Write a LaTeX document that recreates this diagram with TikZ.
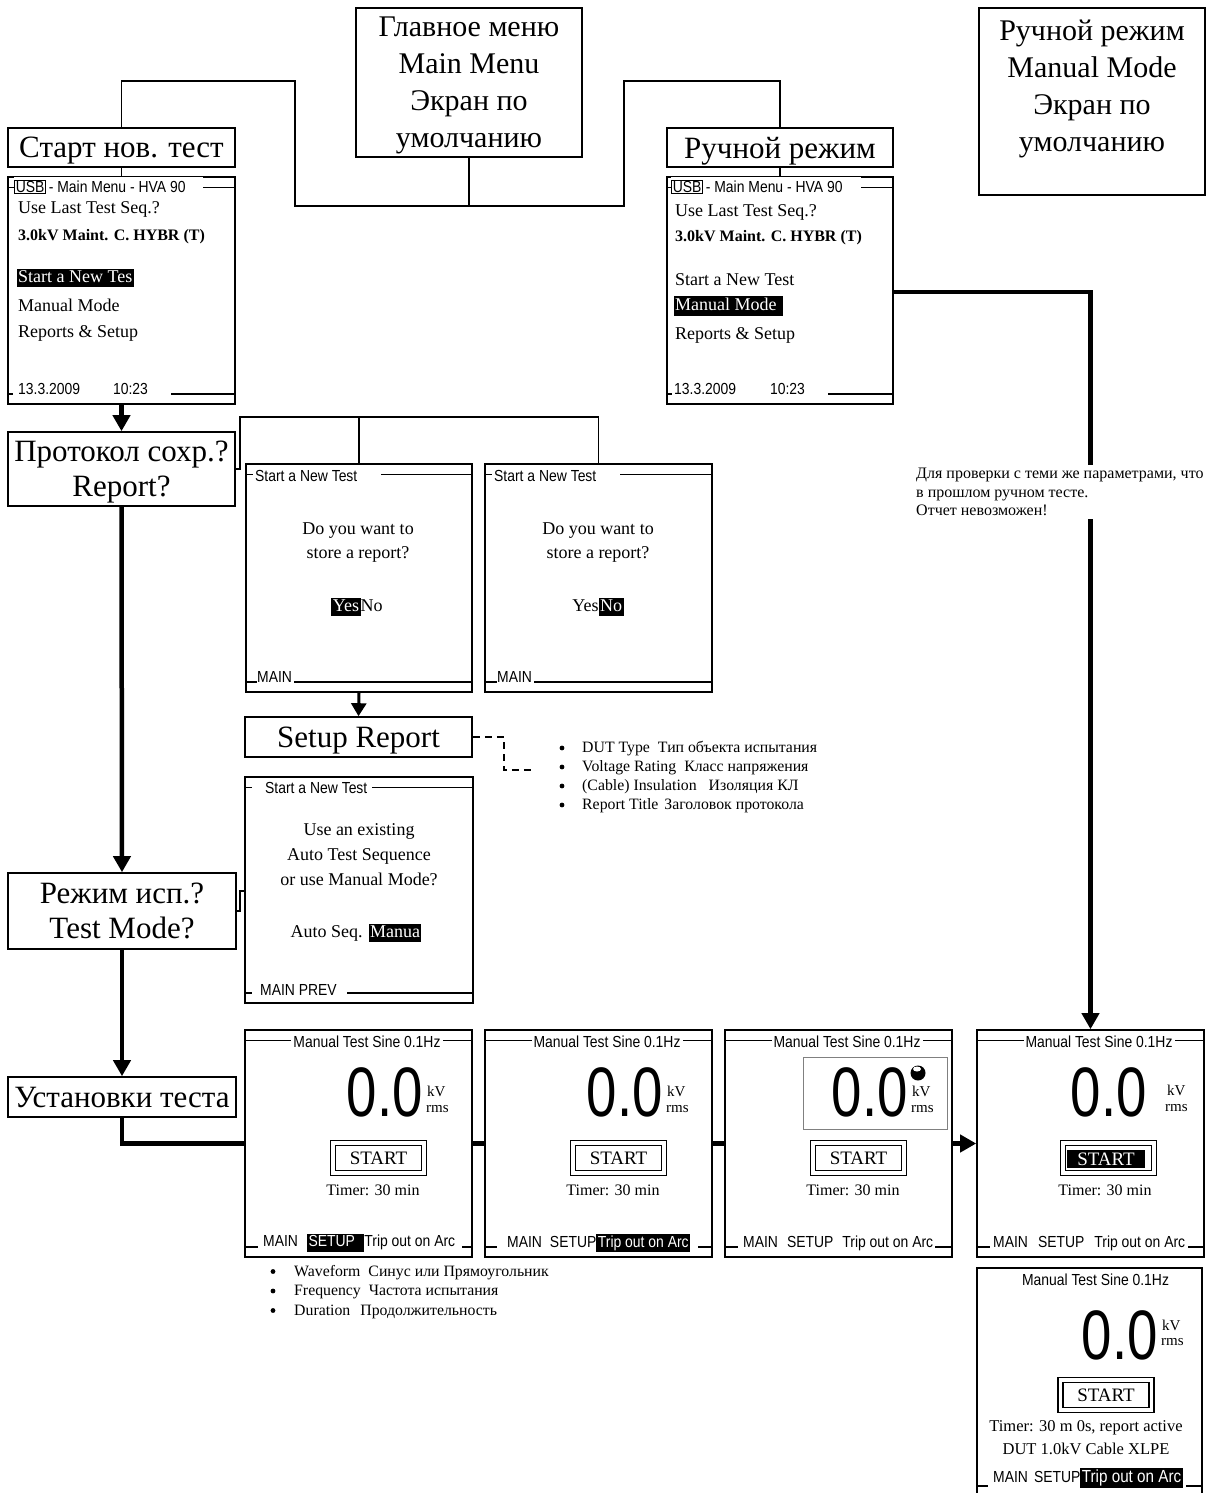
\documentclass[tikz,border=0pt]{standalone}
\usepackage{fontspec}
\setmainfont{Liberation Serif}
\newfontfamily\scrsans[FakeStretch=0.87]{Liberation Sans}
\newfontfamily\digsans[FakeStretch=0.78]{Liberation Sans}
\usetikzlibrary{arrows.meta}
\newcommand{\hl}[1]{{\setlength{\fboxsep}{1.5pt}\colorbox{black}{\vphantom{Ay}\textcolor{white}{#1}}}}
\newcommand{\usbbox}{{\setlength{\fboxsep}{0.8pt}\setlength{\fboxrule}{0.9pt}\fbox{USB}}}
\newcommand{\gap}[1]{\hspace{#1}\mbox{}}

\tikzset{
  lbl/.style={draw, line width=1.6pt, inner sep=0pt, align=center, text depth=0pt, font=\fontsize{31}{35}\selectfont},
  screen/.style={draw, line width=1.6pt, inner sep=0pt, minimum width=227pt, minimum height=227pt},
  scrline/.style={line width=1.4pt},
  conn/.style={line width=1.8pt},
  flow/.style={line width=4.5pt},
  fwd/.style={-{Triangle[length=16pt,width=17pt]}},
  hdr/.style={font=\scrsans\fontsize{16}{19}\selectfont, inner xsep=0pt, inner ysep=3pt, fill=white},
  txt/.style={font=\fontsize{18}{24}\selectfont, inner sep=0pt, align=center},
  menu/.style={txt, anchor=west},
  digits/.style={font=\digsans\fontsize{70}{70}\selectfont, inner sep=0pt, anchor=east},
  unitlbl/.style={font=\fontsize{15}{15}\selectfont, inner sep=0pt, anchor=west},
  startbtn/.style={draw, double, double distance=3.5pt, line width=1.3pt, minimum width=91pt, minimum height=30pt, inner sep=0pt, font=\fontsize{19}{19}\selectfont},
  listtext/.style={font=\fontsize{15.8}{19}\selectfont, inner sep=0pt, anchor=west}
}

\begin{document}
\begin{tikzpicture}[x=1pt,y=-1pt]
    \path[use as bounding box, fill=white] (0,0) rectangle (1207,1493);

    %Top boxes
    \node[lbl, font=\fontsize{30}{37}\selectfont, minimum width=226pt, minimum height=149pt] (mainmenu) at (469,82.5) {Главное меню\\Main Menu\\Экран по\\умолчанию};
    \node[lbl, minimum width=226pt, minimum height=187pt] (manbox) at (1092,101.5) {};
    \node[lbl, draw=none, font=\fontsize{30}{37}\selectfont] (mantext) at (1092,86) {Ручной режим\\Manual Mode\\Экран по\\умолчанию};
    \node[lbl, minimum width=227pt, minimum height=39pt] (start) at (121.5,147.5) {Старт нов. тест};
    \node[lbl, minimum width=226pt, minimum height=39pt] (manlbl) at (780,147.5) {Ручной режим};

    %Left column
    \node[lbl, minimum width=227pt, minimum height=74pt] (report) at (121.5,469) {Протокол сохр.?\\Report?};
    \node[lbl, minimum width=228pt, minimum height=76pt] (tmode) at (122,911) {Режим исп.?\\Test Mode?};
    \node[lbl, minimum width=228pt, minimum height=40pt] (tset) at (122,1097) {Установки теста};
    \node[lbl, minimum width=227pt, minimum height=40pt] (setup) at (358.5,737) {Setup Report};

    %Screens
    \node[screen] (mm1) at (121.5,290.5) {};
    \node[screen, minimum width=226pt] (mm2) at (780,290.5) {};
    \node[screen, minimum width=226pt, minimum height=228pt] (yes) at (359,578) {};
    \node[screen, minimum height=228pt] (no) at (598.5,578) {};
    \node[screen, minimum width=228pt, minimum height=226pt] (useex) at (359,890) {};
    \foreach \sn/\xl in {ma/245,mb/485,mc/725,md/977}
        \node[screen] (\sn) at ({\xl+113.5},1143.5) {};
    \node[screen, minimum width=225pt, minimum height=228pt] (me) at (1089.5,1382) {};

    \foreach \s in {mm1,mm2,yes,no,useex,ma,mb,mc,md}{
        \draw[scrline] ([yshift=-11pt]\s.north west) -- ([yshift=-11pt]\s.north east);
        \draw[scrline] ([yshift=11pt]\s.south west) -- ([yshift=11pt]\s.south east);
    };
    \draw[scrline] ([yshift=11pt]me.south west) -- ([yshift=11pt]me.south east);

    %Connectors
    \coordinate (tl) at (295,81);
    \coordinate (jl) at (295,206);
    \coordinate (jr) at (624,206);
    \coordinate (tr) at (624,81);
    \draw[conn] (start.north) |- (tl) -- (jl) -- (jr) -- (tr) -| (manlbl.north);
    \draw[conn] (mainmenu.south) -- (mainmenu.south |- jl);
    \draw[conn] (start.south) -- (mm1.north);
    \draw[conn] (manlbl.south) -- (mm2.north);
    \draw[flow, fwd] ([yshift=-1.5pt]mm2.east) -| (md.north);
    \draw[flow, fwd] (mm1.south) -- (report.north);
    \draw[flow, fwd] (report.south) -- (tmode.north);
    \draw[flow, fwd] (tmode.south) -- (tset.north);
    \draw[flow] (tset.south) |- (ma.west);
    \draw[flow] (ma.east) -- (mb.west);
    \draw[flow] (mb.east) -- (mc.west);
    \draw[flow, fwd] (mc.east) -- (md.west);
    \coordinate (rtop) at (240,417);
    \draw[conn] (report.east) -| (rtop) -| (no.north);
    \draw[conn] (yes.north) -- (yes.north |- rtop);
    \draw[line width=3pt, -{Triangle[length=13pt,width=15pt]}] (yes.south) -- (setup.north);
    \coordinate (dashend) at (532,770);
    \draw[conn, dash pattern=on 7pt off 5pt] (setup.east) -- ++(31,0) |- (dashend);
    \coordinate (mjog) at (240,891);
    \draw[conn] (tmode.east) -| (mjog) -- (useex.west |- mjog);

    %Main menu screens
    \node[hdr, anchor=west] (mm1hd) at (14,187) {\usbbox\,- Main Menu - HVA 90\gap{17pt}};
    \node[hdr, anchor=west] (mm1ft) at (13,389) {\hspace{5pt}13.3.2009\hspace{33pt}10:23\gap{23pt}};
    \node[menu] (mm1a) at (18,209) {Use Last Test Seq.?};
    \node[menu, font=\bfseries\fontsize{16}{20}\selectfont] (mm1b) at (18,237) {3.0kV Maint. C. HYBR (T)};
    \node[menu] (mm1c) at (16.5,278) {\hl{Start a New Tes}};
    \node[menu] (mm1d) at (18,305) {Manual Mode};
    \node[menu] (mm1e) at (18,333) {Reports \& Setup};

    \node[hdr, anchor=west] (mm2hd) at (671,187) {\usbbox\,- Main Menu - HVA 90\gap{18pt}};
    \node[hdr, anchor=west] (mm2ft) at (672,389) {\hspace{2pt}13.3.2009\hspace{34pt}10:23\gap{23pt}};
    \node[menu] (mm2a) at (675,212) {Use Last Test Seq.?};
    \node[menu, font=\bfseries\fontsize{16}{20}\selectfont] (mm2b) at (675,238) {3.0kV Maint. C. HYBR (T)};
    \node[menu] (mm2c) at (675,280) {Start a New Test};
    \node[menu] (mm2d) at (673.5,306) {\hl{Manual Mode~}};
    \node[menu] (mm2e) at (675,335) {Reports \& Setup};

    %Report question screens
    \node[hdr, anchor=west] (yeshd) at (253,476) {\hspace{2pt}Start a New Test\gap{24pt}};
    \node[hdr, anchor=west] (yesft) at (257,677) {MAIN\gap{2pt}};
    \node[txt] (yesq) at (358,543) {Do you want to\\store a report?};
    \node[txt] (yesa) at (357,607) {\hl{Yes}No};
    \node[hdr, anchor=west] (nohd) at (492,476) {\hspace{2pt}Start a New Test\gap{24pt}};
    \node[hdr, anchor=west] (noft) at (497,677) {MAIN\gap{2pt}};
    \node[txt] (noq) at (598,543) {Do you want to\\store a report?};
    \node[txt] (noa) at (598,607) {Yes\hl{No}};

    \foreach \t [count=\i] in {{DUT Type\hspace{8pt}Тип объекта испытания}, {Voltage Rating\hspace{8pt}Класс напряжения}, {(Cable) Insulation\hspace{12pt}Изоляция КЛ}, {Report Title\hspace{6pt}Заголовок протокола}}{
        \node[listtext] (rep\i) at (582,{730+19*\i}) {\t};
        \fill (562,{729+19*\i}) circle (2.4pt);
    };

    %Test mode screen
    \node[hdr, anchor=west] (useexhd) at (252,788) {\hspace{13pt}Start a New Test\gap{5pt}};
    \node[hdr, anchor=west] (useexft) at (252,990) {\hspace{8pt}MAIN PREV\gap{10pt}};
    \node[txt, font=\fontsize{18}{25}\selectfont] (useexq) at (359,855) {Use an existing\\Auto Test Sequence\\or use Manual Mode?};
    \node[txt] (useexa) at (356,933) {Auto Seq. \hl{Manua}};

    %Manual test screens
    \foreach \sn/\xl in {ma/245,mb/485,mc/725,md/977}{
        \node[hdr, inner xsep=2pt] (\sn-hd) at ({\xl+122},1041.5) {Manual Test Sine 0.1Hz};
        \node[txt, font=\fontsize{16}{20}\selectfont] (\sn-tm) at ({\xl+128},1190) {Timer: 30 min};
    };
    \foreach \sn/\xl/\dx in {ma/245/178,mb/485/178,mc/725/183}{
        \node[digits] (\sn-v) at ({\xl+\dx},1092) {0.0};
        \node[unitlbl] (\sn-kv) at ({\xl+\dx+4},1091) {kV};
        \node[unitlbl] (\sn-rms) at ({\xl+\dx+3},1109) {rms};
        \node[startbtn] (\sn-go) at ({\xl+133.5},1158) {START};
    };
    \node[hdr, anchor=west] (ma-ft) at (258,1243) {\hspace{5pt}MAIN\hspace{9pt}\hl{SETUP\hspace{8pt}}Trip out on Arc\gap{7pt}};
    \node[hdr, anchor=west] (mb-ft) at (497,1243) {\hspace{10pt}MAIN\hspace{8pt}SETUP\hl{Trip out on Arc}\gap{8pt}};
    \node[hdr, anchor=west] (mc-ft) at (738,1243) {\hspace{5pt}MAIN\hspace{9pt}SETUP\hspace{9pt}Trip out on Arc\gap{2pt}};
    \node[hdr, anchor=west] (md-ft) at (990,1243) {\hspace{3pt}MAIN\hspace{10pt}SETUP\hspace{10pt}Trip out on Arc\gap{3pt}};

    \foreach \t [count=\i] in {{Waveform\hspace{8pt}Синус или Прямоугольник}, {Frequency\hspace{8pt}Частота испытания}, {Duration\hspace{10pt}Продолжительность}}{
        \node[listtext] (wave\i) at (294,{1253+19.5*\i}) {\t};
        \fill (273,{1252+19.5*\i}) circle (2.4pt);
    };

    \draw[gray, line width=0.8pt] (803,1057) rectangle (947,1129);
    \fill (918,1073) circle (7.5pt);
    \fill[white] (917,1069) ellipse (4pt and 2.5pt);

    \node[digits] (md-v) at (1147,1092) {0.0};
    \node[unitlbl] (md-kv) at (1167,1090) {kV};
    \node[unitlbl] (md-rms) at (1165,1108) {rms};
    \node[startbtn] (md-go) at (1108.5,1158) {};
    \node[fill=black, text=white, minimum width=78pt, minimum height=18pt, inner sep=0pt, font=\fontsize{19}{19}\selectfont] (md-sel) at (1106,1159) {START};

    \node[hdr, fill=none] (me-hd) at (1095.5,1280) {Manual Test Sine 0.1Hz};
    \node[digits] (me-v) at (1158,1335) {0.0};
    \node[unitlbl] (me-kv) at (1162,1325) {kV};
    \node[unitlbl] (me-rms) at (1161,1342) {rms};
    \node[startbtn] (me-go) at (1106,1395) {START};
    \node[txt, font=\fontsize{16.5}{23}\selectfont] (me-tm) at (1086,1438) {Timer: 30 m 0s, report active\\DUT 1.0kV Cable XLPE};
    \node[hdr, anchor=west] (me-ft) at (988,1478) {\hspace{5pt}MAIN\hspace{6pt}SETUP\hl{\fontsize{17.5}{20}\selectfont Trip out on Arc}\gap{3pt}};

    %Note on manual mode path
    \node[listtext, font=\fontsize{16}{18.5}\selectfont, align=left, fill=white, inner ysep=3pt] (nolog) at (916,492) {Для проверки с теми же параметрами, что\\в прошлом ручном тесте.\\Отчет невозможен!};
\end{tikzpicture}
\end{document}
